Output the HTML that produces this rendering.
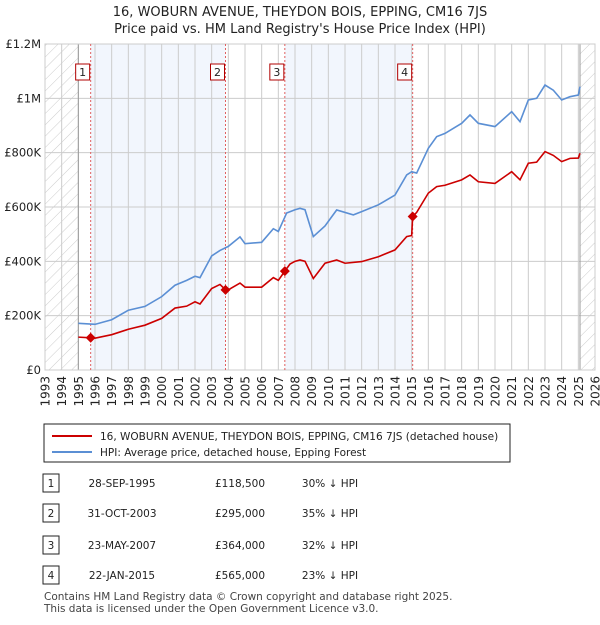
<!DOCTYPE html>
<html><head><meta charset="utf-8"><style>
body{margin:0;background:#fff;font-family:"Liberation Sans","DejaVu Sans",sans-serif;}
svg text{font-family:"DejaVu Sans","Liberation Sans",sans-serif;}
</style></head><body>
<svg id="c" width="600" height="620" xmlns="http://www.w3.org/2000/svg">
<defs><pattern id="hatch" width="8" height="8" patternUnits="userSpaceOnUse" patternTransform="rotate(45)"><line x1="0" y1="0" x2="0" y2="8" stroke="#ccc" stroke-width="1"/></pattern></defs>
<text x="300" y="16" text-anchor="middle" font-size="13" fill="#222">16, WOBURN AVENUE, THEYDON BOIS, EPPING, CM16 7JS</text>
<text x="300" y="33" text-anchor="middle" font-size="13" fill="#222">Price paid vs. HM Land Registry's House Price Index (HPI)</text>
<g id="plot"></g>
<rect x="44" y="424" width="466" height="38" fill="#fff" stroke="#222"/>
<line x1="52" y1="436" x2="92" y2="436" stroke="#cc0000" stroke-width="2"/>
<text x="100" y="440" font-size="10.5" fill="#222">16, WOBURN AVENUE, THEYDON BOIS, EPPING, CM16 7JS (detached house)</text>
<line x1="52" y1="452" x2="92" y2="452" stroke="#5b8fd4" stroke-width="2"/>
<text x="100" y="456" font-size="10.5" fill="#222">HPI: Average price, detached house, Epping Forest</text>
<g id="tbl" font-size="10.5" fill="#222"></g>
<text x="44" y="600" font-size="10.5" fill="#444">Contains HM Land Registry data © Crown copyright and database right 2025.</text>
<text x="44" y="612" font-size="10.5" fill="#444">This data is licensed under the Open Government Licence v3.0.</text>
</svg>
<script>
const hpiYears=[1995,1996,1997,1998,1999,2000,2000.8,2001.5,2002,2002.3,2003,2003.5,2004,2004.7,2005,2006,2006.7,2007,2007.5,2008,2008.3,2008.6,2009.1,2009.8,2010.5,2011.5,2012,2013,2014,2014.7,2015,2015.3,2016,2016.5,2017,2018,2018.5,2019,2020,2021,2021.5,2022,2022.5,2023,2023.5,2024,2024.5,2025,2025.1];
const hpiValues=[172,168,185,220,234,270,312,330,345,340,420,440,455,490,465,470,520,510,578,590,595,590,491,530,589,571,583,608,644,718,730,725,816,859,871,908,939,908,896,951,914,994,1000,1049,1030,994,1006,1012,1043];
const ppYears=[1995,1995.74,1996,1997,1998,1999,2000,2000.8,2001.5,2002,2002.3,2003,2003.5,2003.83,2004,2004.7,2005,2006,2006.7,2007,2007.39,2007.7,2008,2008.3,2008.6,2009.1,2009.8,2010.5,2011,2012,2013,2014,2014.7,2015.0,2015.06,2015.3,2016,2016.5,2017,2018,2018.5,2019,2020,2021,2021.5,2022,2022.5,2023,2023.5,2024,2024.5,2025,2025.1];
const ppValues=[121,118.5,117,130,150,165,190,228,235,251,243,300,315,295,295,320,305,305,340,330,364,390,400,405,400,337,393,405,393,399,417,442,491,495,565,580,651,675,680,700,718,693,687,730,700,761,765,804,790,767,779,780,798];
const saleYears=[1995.74,2003.83,2007.39,2015.06];
const saleValues=[118.5,295,364,565];
const saleLabels=["1","2","3","4"];
const saleDates=["28-SEP-1995","31-OCT-2003","23-MAY-2007","22-JAN-2015"];
const salePrices=["£118,500","£295,000","£364,000","£565,000"];
const salePcts=["30% ↓ HPI","35% ↓ HPI","32% ↓ HPI","23% ↓ HPI"];
const yTicks=[0,200,400,600,800,1000,1200];
const yTickLabels=["£0","£200K","£400K","£600K","£800K","£1M","£1.2M"];
const xTicks=[];for(let y=1993;y<=2026;y++)xTicks.push(y);

const X0=45,X1=595,Y0=370,Y1=44;
const xs=y=>X0+(y-1993)/(2026-1993)*(X1-X0);
const ys=v=>Y0-v/1200*(Y0-Y1);
const NS="http://www.w3.org/2000/svg";
const g=document.getElementById('plot');
function mk(t,a,p){const e=document.createElementNS(NS,t);for(const k in a)e.setAttribute(k,a[k]);(p||g).appendChild(e);return e;}
let e;
e=mk('rect',{x:X0,y:Y1,width:X1-X0,height:Y0-Y1,fill:'#fff'});


for(let i=0;i<3;i+=2){
 e=mk('rect',{x:xs(saleYears[i]),y:Y1,width:xs(saleYears[i+1])-xs(saleYears[i]),height:Y0-Y1,fill:'#eef3fc',opacity:0.75});
 
 
}
e=mk('rect',{x:X0,y:Y1,width:xs(1995)-X0,height:Y0-Y1,fill:'url(#hatch)'});


e=mk('rect',{x:xs(2025.1),y:Y1,width:X1-xs(2025.1),height:Y0-Y1,fill:'url(#hatch)'});


xTicks.forEach(y=>{
 e=mk('line',{x1:xs(y),x2:xs(y),y1:Y1,y2:Y0,stroke:'#cccccc','stroke-width':1});
 
 
 e=mk('text',{x:0,y:0,transform:`translate(${xs(y)+4.5},${Y0+6}) rotate(-90)`,'text-anchor':'end','font-size':12,fill:'#222'});
 e.textContent=y;
 
 
});
yTicks.forEach((v,i)=>{
 e=mk('line',{x1:X0,x2:X1,y1:ys(v),y2:ys(v),stroke:'#cccccc','stroke-width':1});
 
 
 e=mk('text',{x:X0-4,y:ys(v)+4,'text-anchor':'end','font-size':11.5,fill:'#222'});
 e.textContent=yTickLabels[i];
 
 
});
e=mk('line',{x1:xs(1995),x2:xs(1995),y1:Y1,y2:Y0,stroke:'#999'});


e=mk('line',{x1:xs(2025.1),x2:xs(2025.1),y1:Y1,y2:Y0,stroke:'#999'});


e=mk('rect',{x:X0,y:Y1,width:X1-X0,height:Y0-Y1,fill:'none',stroke:'#ccc'});


saleYears.forEach((y,i)=>{
 e=mk('line',{x1:xs(y),x2:xs(y),y1:Y1,y2:Y0,stroke:'#e06060','stroke-dasharray':'2,2','stroke-width':1});
 
 
});
e=mk('polyline',{points:hpiYears.map((y,i)=>xs(y)+','+ys(hpiValues[i])).join(' '),fill:'none',stroke:'#5b8fd4','stroke-width':1.6});


e=mk('polyline',{points:ppYears.map((y,i)=>xs(y)+','+ys(ppValues[i])).join(' '),fill:'none',stroke:'#cc0000','stroke-width':1.6});


saleYears.forEach((y,i)=>{
 const cx=xs(y),cy=ys(saleValues[i]);
 e=mk('polygon',{points:`${cx},${cy-5} ${cx+5},${cy} ${cx},${cy+5} ${cx-5},${cy}`,fill:'#cc0000'});
 
 
 e=mk('rect',{x:cx-15,y:64,width:14,height:16,fill:'#fff',stroke:'#b00000'});
 
 
 e=mk('text',{x:cx-8,y:76,'text-anchor':'middle','font-size':11,fill:'#222'});
 e.textContent=saleLabels[i];
 
 
});
const t=document.getElementById('tbl');
const rowY=[483,513,545,575];
saleLabels.forEach((l,i)=>{
 const cy=rowY[i];
 e=mk('rect',{x:43,y:cy-9,width:16,height:18,fill:'#fff',stroke:'#222'},t);
 
 
 e=mk('text',{x:51,y:cy+4,'text-anchor':'middle'},t);e.textContent=l;
 
 
 e=mk('text',{x:122,y:cy+4,'text-anchor':'middle'},t);e.textContent=saleDates[i];
 
 
 e=mk('text',{x:240,y:cy+4,'text-anchor':'middle'},t);e.textContent=salePrices[i];
 
 
 e=mk('text',{x:330,y:cy+4,'text-anchor':'middle'},t);e.textContent=salePcts[i];
 
 
});
</script>
</body></html>
